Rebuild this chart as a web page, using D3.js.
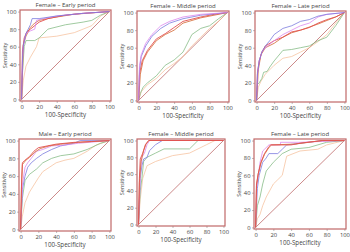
<!DOCTYPE html>
<html><head><meta charset="utf-8">
<script src="https://cdn.jsdelivr.net/npm/d3@7"></script>
<style>body{margin:0;background:#fff}svg{display:block}text{font-family:"Open Sans",sans-serif;fill:#444}</style>
</head><body><svg id="c" width="350" height="252"></svg>
<script>
const titles = ["Female – Early period","Female – Middle period","Female – Late period","Male – Early period","Female – Middle period","Female – Late period"];
const ticks = [0,20,40,60,80,100];
const colors = {blue:"#7474dc",magenta:"#da80ec",red:"#e25050",orange:"#d87848",green:"#80b880",peach:"#f6c09c"};

// Panel 1: Female – Early period
const p1Blue = [[0,0],[1,45],[2,62],[5,75],[10,85],[12,92],[20,92],[40,95],[70,98],[100,100]];
const p1Magenta = [[0,0],[1,45],[2,60],[5,75],[10,78],[15,80],[17,90],[25,92],[40,95],[70,98],[100,100]];
const p1Red = [[0,0],[1,55],[3,70],[6,77],[10,80],[20,88],[30,92],[50,96],[70,98],[100,100]];
const p1Orange = [[0,0],[2,62],[5,72],[10,82],[15,87],[20,90],[35,93],[60,97],[100,100]];
const p1Green = [[0,0],[1,30],[3,60],[5,67],[15,67],[20,70],[30,80],[50,85],[70,88],[80,90],[90,96],[100,100]];
const p1Peach = [[0,0],[2,22],[5,38],[10,48],[17,60],[20,70],[40,72],[60,76],[80,84],[90,95],[100,100]];

// Panel 2: Female – Middle period
const p2Blue = [[0,0],[1,35],[3,50],[8,62],[15,73],[25,82],[35,88],[50,93],[70,97],[100,100]];
const p2Magenta = [[0,0],[1,40],[3,52],[8,65],[15,75],[25,85],[35,90],[50,95],[70,98],[100,100]];
const p2Red = [[0,0],[1,30],[4,45],[10,57],[20,70],[30,76],[40,83],[50,90],[70,95],[85,98],[100,100]];
const p2Orange = [[0,0],[2,30],[5,45],[10,55],[20,68],[30,75],[40,80],[50,88],[70,94],[100,100]];
const p2Green = [[0,0],[2,8],[5,15],[10,20],[20,28],[30,40],[40,46],[50,55],[60,75],[70,82],[80,85],[90,93],[100,100]];
const p2Peach = [[0,0],[3,10],[10,18],[20,25],[30,35],[40,42],[50,50],[60,62],[70,72],[80,82],[90,90],[100,100]];

// Panel 3: Female – Late period
const p3Blue = [[0,0],[1,30],[3,45],[6,55],[10,62],[15,68],[20,75],[30,82],[40,85],[50,90],[60,92],[70,96],[80,98],[100,100]];
const p3Magenta = [[0,0],[1,30],[3,45],[6,55],[10,60],[20,68],[30,75],[40,80],[50,85],[60,88],[70,95],[80,98],[100,100]];
const p3Red = [[0,0],[1,32],[3,45],[6,55],[10,62],[20,68],[30,72],[40,78],[50,80],[60,83],[70,88],[80,92],[90,95],[100,100]];
const p3Orange = [[0,0],[2,35],[5,52],[10,60],[20,65],[30,72],[40,77],[50,80],[70,87],[90,95],[100,100]];
const p3Green = [[0,0],[1,18],[3,20],[6,25],[8,32],[12,33],[15,38],[20,45],[30,57],[40,58],[50,60],[60,62],[70,68],[80,72],[90,85],[100,100]];
const p3Peach = [[0,0],[2,15],[5,22],[10,30],[20,40],[30,48],[40,50],[50,55],[60,60],[70,67],[80,75],[90,88],[100,100]];

// Panel 4: Male – Early period
const p4Blue = [[0,0],[2,45],[5,60],[8,70],[12,75],[18,80],[25,85],[35,90],[45,94],[60,97],[67,100],[100,100]];
const p4Magenta = [[0,0],[2,50],[5,70],[8,75],[12,80],[18,88],[25,90],[35,94],[50,95],[65,97],[100,100]];
const p4Red = [[0,0],[1,50],[2,75],[5,78],[10,82],[15,88],[20,92],[30,94],[40,96],[60,98],[80,99],[100,100]];
const p4Orange = [[0,0],[1,48],[2,73],[6,78],[10,81],[16,87],[22,91],[32,94],[45,96],[65,98],[100,100]];
const p4Green = [[0,0],[2,35],[5,55],[10,62],[18,68],[25,75],[35,80],[45,83],[60,85],[75,90],[90,97],[100,100]];
const p4Peach = [[0,0],[2,15],[5,30],[10,42],[15,50],[20,58],[25,65],[40,75],[50,78],[60,80],[75,88],[85,95],[100,100]];

// Panel 5: Female – Middle period
const p5Blue = [[0,0],[2,55],[4,70],[6,78],[10,80],[13,88],[20,95],[28,100],[100,100]];
const p5Magenta = [[0,0],[2,60],[4,80],[7,85],[10,95],[13,100],[100,100]];
const p5Red = [[0,0],[1,55],[2,78],[5,85],[8,95],[12,100],[100,100]];
const p5Orange = [[0,0],[1,50],[3,75],[6,88],[9,96],[12,100],[100,100]];
const p5Green = [[0,0],[2,40],[4,55],[6,75],[10,80],[20,85],[30,90],[60,90],[70,100],[100,100]];
const p5Peach = [[0,0],[2,30],[5,55],[10,70],[20,75],[40,82],[60,85],[80,95],[90,100],[100,100]];

// Panel 6: Female – Late period
const p6Blue = [[0,0],[2,45],[4,60],[8,75],[12,80],[15,85],[25,85],[30,90],[35,95],[75,100],[100,100]];
const p6Magenta = [[0,0],[1,45],[3,60],[5,75],[8,88],[10,90],[15,95],[28,95],[28,98],[50,98],[100,100]];
const p6Red = [[0,0],[1,50],[3,62],[6,75],[10,85],[15,93],[17,95],[40,95],[50,97],[75,100],[100,100]];
const p6Orange = [[0,0],[1,48],[3,62],[6,74],[10,84],[15,92],[18,95],[45,96],[75,100],[100,100]];
const p6Green = [[0,0],[2,25],[5,35],[8,50],[12,65],[20,75],[30,85],[40,90],[60,92],[80,98],[100,100]];
const p6Peach = [[0,0],[2,10],[5,15],[8,25],[12,35],[20,50],[25,55],[30,60],[35,82],[50,88],[70,90],[80,95],[100,100]];

const panelData = [
  [p1Peach,p1Green,p1Orange,p1Red,p1Magenta,p1Blue],
  [p2Peach,p2Green,p2Orange,p2Red,p2Blue,p2Magenta],
  [p3Peach,p3Green,p3Orange,p3Red,p3Magenta,p3Blue],
  [p4Peach,p4Green,p4Blue,p4Magenta,p4Orange,p4Red],
  [p5Peach,p5Green,p5Blue,p5Magenta,p5Orange,p5Red],
  [p6Peach,p6Green,p6Blue,p6Magenta,p6Orange,p6Red]
];
const panelColors = [
  ["peach","green","orange","red","magenta","blue"],
  ["peach","green","orange","red","blue","magenta"],
  ["peach","green","orange","red","magenta","blue"],
  ["peach","green","blue","magenta","orange","red"],
  ["peach","green","blue","magenta","orange","red"],
  ["peach","green","blue","magenta","orange","red"]
];

// frame boxes [left, top, right, bottom]
const boxes = [[20,10,111,101],[137,11,229,102],[255,11,346,102],[19,139,111,231],[137,139,225,226],[254,139,346,229]];

const svg = d3.select("#c");
boxes.forEach((b,i)=>{
  const x = d3.scaleLinear().domain([-1.8,101.8]).range([b[0],b[2]]);
  const y = d3.scaleLinear().domain([-1.8,101.8]).range([b[3],b[1]]);
  const g = svg.append("g");
  g.append("text").attr("x",(b[0]+b[2])/2).attr("y",b[1]-3).attr("text-anchor","middle")
    .style("font-size","6px").text(titles[i]);
  const ax = g.append("g").attr("transform",`translate(0,${b[3]})`)
    .call(d3.axisBottom(x).tickValues(ticks).tickSize(2).tickPadding(1.5));
  const ay = g.append("g").attr("transform",`translate(${b[0]},0)`)
    .call(d3.axisLeft(y).tickValues(ticks).tickSize(2).tickPadding(1.5));
  [ax,ay].forEach(a=>{
    a.select(".domain").remove();
    a.selectAll("line").attr("stroke","#777").attr("stroke-width",0.5);
    a.selectAll("text").style("font-size","5.8px").attr("fill","#444").style("font-family","'Open Sans',sans-serif");
  });
  g.append("text").attr("x",(b[0]+b[2])/2).attr("y",b[3]+15.5).attr("text-anchor","middle")
    .style("font-size","6.2px").text("100-Specificity");
  g.append("text").attr("transform",`translate(${b[0]-13.5},${(b[1]+b[3])/2}) rotate(-90)`).attr("text-anchor","middle")
    .style("font-size","5.5px").text("Sensitivity");
  g.append("line").attr("x1",x(0)).attr("y1",y(0)).attr("x2",x(100)).attr("y2",y(100))
    .attr("stroke","#c67c7c").attr("stroke-width",0.9);
  const line = d3.line().x(d=>x(d[0])).y(d=>y(d[1]));
  panelData[i].forEach((d,k)=>{
    const c = panelColors[i][k];
    g.append("path").attr("d",line(d)).attr("fill","none")
      .attr("stroke",colors[c]).attr("stroke-width", c==="red"||c==="orange"?0.9:0.75)
      .attr("stroke-linejoin","round");
  });
  g.append("rect").attr("x",b[0]).attr("y",b[1]).attr("width",b[2]-b[0]).attr("height",b[3]-b[1])
    .attr("fill","none").attr("stroke","#c06868").attr("stroke-width",1.2);
});
</script></body></html>
